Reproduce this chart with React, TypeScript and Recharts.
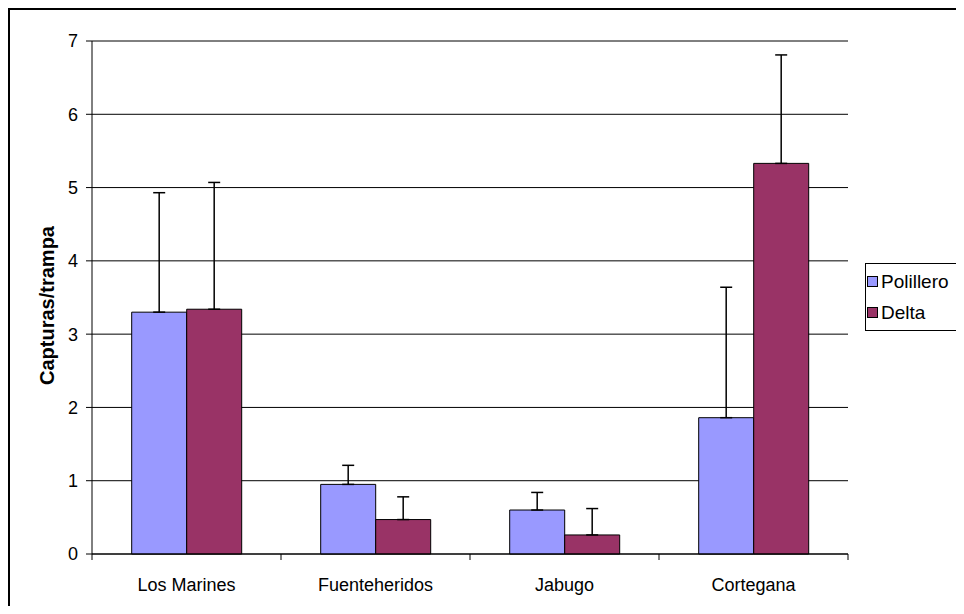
import { BarChart, Bar, XAxis, YAxis, CartesianGrid, Legend, ErrorBar } from 'recharts';

const categories = ['Los Marines', 'Fuenteheridos', 'Jabugo', 'Cortegana'];
const polillero = [3.3, 0.95, 0.6, 1.86];
const delta = [3.34, 0.47, 0.26, 5.33];
// upper error only (standard error bars drawn above the bars)
const polilleroErr = [1.63, 0.26, 0.24, 1.78];
const deltaErr = [1.73, 0.31, 0.36, 1.48];
const yTicks = [0, 1, 2, 3, 4, 5, 6, 7];

const SERIES = [
  { key: 'polillero', name: 'Polillero', color: '#9999FF' },
  { key: 'delta', name: 'Delta', color: '#993366' },
];

const FONT = '"Liberation Sans", Arial, sans-serif';

const data = categories.map((name, i) => ({
  name,
  polillero: polillero[i],
  delta: delta[i],
  polilleroErr: [0, polilleroErr[i]],
  deltaErr: [0, deltaErr[i]],
}));

// excel style: tick marks sit between categories, label in the middle
const CategoryTick = ({ x, y, payload, index, visibleTicksCount }: any) => {
  const half = typeof payload.offset === 'number' ? payload.offset : 0;
  return (
    <g>
      {half > 0 && <line x1={x - half} x2={x - half} y1={y} y2={y + 6} stroke="#000" />}
      {half > 0 && index === visibleTicksCount - 1 && (
        <line x1={x + half} x2={x + half} y1={y} y2={y + 6} stroke="#000" />
      )}
      <text
        x={x}
        y={y + 37}
        textAnchor="middle"
        style={{ fontFamily: FONT, fontSize: 18, fill: '#000' }}
      >
        {payload.value}
      </text>
    </g>
  );
};

const YLabel = ({ viewBox }: any) => {
  const cx = viewBox.x + 37;
  const cy = viewBox.y + viewBox.height / 2 + 8;
  return (
    <text
      x={cx}
      y={cy}
      transform={`rotate(-90, ${cx}, ${cy})`}
      textAnchor="middle"
      dominantBaseline="central"
      style={{ fontFamily: FONT, fontSize: 20, fontWeight: 'bold', fill: '#000' }}
    >
      Capturas/trampa
    </text>
  );
};

const LegendBox = () => (
  <div
    style={{
      border: '1px solid #000',
      borderRight: 'none',
      background: '#fff',
      width: 120,
      padding: '2px 0 2px 1px',
      fontFamily: FONT,
      fontSize: 19,
      color: '#000',
    }}
  >
    {SERIES.map((s) => (
      <div key={s.key} style={{ display: 'flex', alignItems: 'center', height: 31 }}>
        <span
          style={{
            display: 'inline-block',
            width: 9,
            height: 9,
            border: '1px solid #000',
            background: s.color,
            marginRight: 3,
          }}
        />
        <span>{s.name}</span>
      </div>
    ))}
  </div>
);

export default function App() {
  return (
    <div
      style={{
        width: 956,
        height: 598,
        borderTop: '2px solid #000',
        borderLeft: '2px solid #000',
        boxSizing: 'border-box',
        overflow: 'hidden',
        background: '#fff',
      }}
    >
      <BarChart
        width={954}
        height={596}
        data={data}
        margin={{ top: 31, right: 116, bottom: 0, left: 0 }}
        barCategoryGap="21%"
        barGap={0}
      >
        <CartesianGrid vertical={false} stroke="#000" />
        <XAxis
          dataKey="name"
          height={52}
          tickSize={0}
          tickMargin={0}
          tickLine={false}
          axisLine={{ stroke: '#000' }}
          tick={<CategoryTick />}
          interval={0}
        />
        <YAxis
          domain={[0, 7]}
          ticks={yTicks}
          width={82}
          tickSize={6}
          tickMargin={8}
          axisLine={{ stroke: '#000' }}
          tickLine={{ stroke: '#000' }}
          tick={{ fill: '#000', fontSize: 18, fontFamily: FONT }}
          label={<YLabel />}
        />
        <YAxis
          yAxisId="r"
          orientation="right"
          domain={[0, 7]}
          width={0}
          tick={false}
          tickLine={false}
          axisLine={{ stroke: '#000' }}
        />
        <Legend
          layout="vertical"
          align="center"
          verticalAlign="middle"
          content={<LegendBox />}
          wrapperStyle={{ left: 855, top: 253, width: 120 }}
        />
        {SERIES.map((s) => (
          <Bar
            key={s.key}
            dataKey={s.key}
            name={s.name}
            fill={s.color}
            stroke="#000"
            strokeWidth={1}
            isAnimationActive={false}
          >
            <ErrorBar
              dataKey={`${s.key}Err`}
              width={6}
              stroke="#000"
              strokeWidth={1.5}
              direction="y"
              isAnimationActive={false}
            />
          </Bar>
        ))}
      </BarChart>
    </div>
  );
}
